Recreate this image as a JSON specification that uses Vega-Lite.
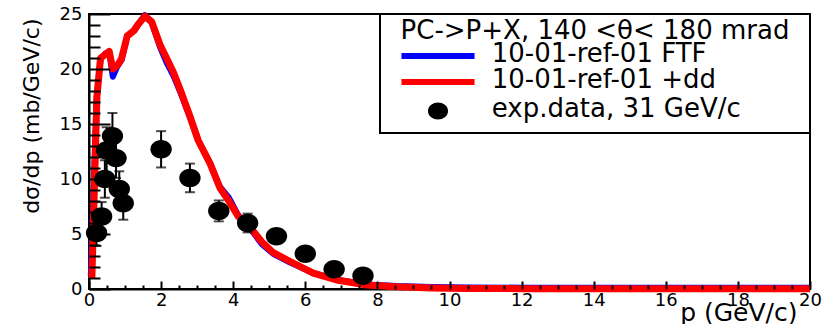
{
  "$schema": "https://vega.github.io/schema/vega-lite/v6.json",
  "width": 721,
  "height": 275,
  "autosize": {"type": "none"},
  "padding": {"left": 89, "top": 14, "right": 15, "bottom": 35},
  "background": "white",
  "config": {
    "view": {"stroke": "black", "strokeWidth": 2},
    "font": "DejaVu Sans",
    "axis": {
      "grid": false,
      "domainColor": "black",
      "domainWidth": 2,
      "tickColor": "#000000",
      "tickOpacity": 1,
      "tickWidth": 2,
      "labelColor": "black",
      "labelFont": "DejaVu Sans",
      "labelFontSize": 18,
      "labelFlush": false,
      "labelOverlap": false,
      "titleColor": "black",
      "titleFont": "DejaVu Sans",
      "titleFontWeight": "normal",
      "format": "d"
    },
    "legend": {
      "padding": 4,
      "strokeColor": "black",
      "strokeWidth": 2,
      "fillColor": "white",
      "titleFont": "DejaVu Sans",
      "titleFontSize": 26,
      "titleFontWeight": "normal",
      "titleColor": "black",
      "titleAnchor": "middle",
      "titleLimit": 2000,
      "titlePadding": -1,
      "labelFont": "DejaVu Sans",
      "labelFontSize": 26,
      "labelColor": "black",
      "labelLimit": 2000,
      "labelOffset": 40.7,
      "symbolOffset": 41,
      "symbolSize": 324,
      "symbolStrokeWidth": 6,
      "rowPadding": -1,
      "direction": "vertical"
    }
  },
  "datasets": {
    "ftf": [
      {"p": 0.05, "v": 1.2, "series": "10-01-ref-01 FTF"},
      {"p": 0.21, "v": 17.2, "series": "10-01-ref-01 FTF"},
      {"p": 0.32, "v": 20.9, "series": "10-01-ref-01 FTF"},
      {"p": 0.45, "v": 21.4, "series": "10-01-ref-01 FTF"},
      {"p": 0.56, "v": 21.6, "series": "10-01-ref-01 FTF"},
      {"p": 0.66, "v": 19.3, "series": "10-01-ref-01 FTF"},
      {"p": 0.78, "v": 20.2, "series": "10-01-ref-01 FTF"},
      {"p": 0.9, "v": 20.8, "series": "10-01-ref-01 FTF"},
      {"p": 1.06, "v": 23.0, "series": "10-01-ref-01 FTF"},
      {"p": 1.25, "v": 23.5, "series": "10-01-ref-01 FTF"},
      {"p": 1.35, "v": 24.0, "series": "10-01-ref-01 FTF"},
      {"p": 1.55, "v": 24.9, "series": "10-01-ref-01 FTF"},
      {"p": 1.74, "v": 24.2, "series": "10-01-ref-01 FTF"},
      {"p": 1.97, "v": 22.0, "series": "10-01-ref-01 FTF"},
      {"p": 2.15, "v": 20.6, "series": "10-01-ref-01 FTF"},
      {"p": 2.34, "v": 19.4, "series": "10-01-ref-01 FTF"},
      {"p": 2.52, "v": 18.0, "series": "10-01-ref-01 FTF"},
      {"p": 2.8, "v": 15.6, "series": "10-01-ref-01 FTF"},
      {"p": 3.03, "v": 13.5, "series": "10-01-ref-01 FTF"},
      {"p": 3.36, "v": 11.4, "series": "10-01-ref-01 FTF"},
      {"p": 3.63, "v": 9.3, "series": "10-01-ref-01 FTF"},
      {"p": 3.88, "v": 8.3, "series": "10-01-ref-01 FTF"},
      {"p": 4.14, "v": 6.7, "series": "10-01-ref-01 FTF"},
      {"p": 4.47, "v": 5.5, "series": "10-01-ref-01 FTF"},
      {"p": 4.79, "v": 4.1, "series": "10-01-ref-01 FTF"},
      {"p": 5.11, "v": 3.2, "series": "10-01-ref-01 FTF"},
      {"p": 5.58, "v": 2.4, "series": "10-01-ref-01 FTF"},
      {"p": 6.22, "v": 1.45, "series": "10-01-ref-01 FTF"},
      {"p": 6.87, "v": 0.85, "series": "10-01-ref-01 FTF"},
      {"p": 7.7, "v": 0.42, "series": "10-01-ref-01 FTF"},
      {"p": 8.54, "v": 0.27, "series": "10-01-ref-01 FTF"},
      {"p": 9.5, "v": 0.18, "series": "10-01-ref-01 FTF"},
      {"p": 10.5, "v": 0.14, "series": "10-01-ref-01 FTF"},
      {"p": 12, "v": 0.12, "series": "10-01-ref-01 FTF"},
      {"p": 14, "v": 0.11, "series": "10-01-ref-01 FTF"},
      {"p": 16, "v": 0.11, "series": "10-01-ref-01 FTF"},
      {"p": 18, "v": 0.11, "series": "10-01-ref-01 FTF"},
      {"p": 20, "v": 0.11, "series": "10-01-ref-01 FTF"}
    ],
    "dd": [
      {"p": 0.08, "v": 1.0, "series": "10-01-ref-01 +dd"},
      {"p": 0.22, "v": 17.5, "series": "10-01-ref-01 +dd"},
      {"p": 0.32, "v": 21.0, "series": "10-01-ref-01 +dd"},
      {"p": 0.45, "v": 21.3, "series": "10-01-ref-01 +dd"},
      {"p": 0.56, "v": 21.6, "series": "10-01-ref-01 +dd"},
      {"p": 0.66, "v": 20.0, "series": "10-01-ref-01 +dd"},
      {"p": 0.78, "v": 20.3, "series": "10-01-ref-01 +dd"},
      {"p": 0.9, "v": 20.9, "series": "10-01-ref-01 +dd"},
      {"p": 1.06, "v": 23.0, "series": "10-01-ref-01 +dd"},
      {"p": 1.25, "v": 23.5, "series": "10-01-ref-01 +dd"},
      {"p": 1.35, "v": 24.0, "series": "10-01-ref-01 +dd"},
      {"p": 1.55, "v": 24.8, "series": "10-01-ref-01 +dd"},
      {"p": 1.74, "v": 24.3, "series": "10-01-ref-01 +dd"},
      {"p": 1.97, "v": 22.2, "series": "10-01-ref-01 +dd"},
      {"p": 2.15, "v": 21.0, "series": "10-01-ref-01 +dd"},
      {"p": 2.34, "v": 19.7, "series": "10-01-ref-01 +dd"},
      {"p": 2.52, "v": 18.2, "series": "10-01-ref-01 +dd"},
      {"p": 2.8, "v": 15.7, "series": "10-01-ref-01 +dd"},
      {"p": 3.03, "v": 13.5, "series": "10-01-ref-01 +dd"},
      {"p": 3.36, "v": 11.4, "series": "10-01-ref-01 +dd"},
      {"p": 3.63, "v": 9.2, "series": "10-01-ref-01 +dd"},
      {"p": 3.86, "v": 8.1, "series": "10-01-ref-01 +dd"},
      {"p": 4.14, "v": 6.6, "series": "10-01-ref-01 +dd"},
      {"p": 4.47, "v": 5.6, "series": "10-01-ref-01 +dd"},
      {"p": 4.79, "v": 4.3, "series": "10-01-ref-01 +dd"},
      {"p": 5.11, "v": 3.3, "series": "10-01-ref-01 +dd"},
      {"p": 5.58, "v": 2.5, "series": "10-01-ref-01 +dd"},
      {"p": 6.22, "v": 1.45, "series": "10-01-ref-01 +dd"},
      {"p": 6.87, "v": 0.82, "series": "10-01-ref-01 +dd"},
      {"p": 7.7, "v": 0.36, "series": "10-01-ref-01 +dd"},
      {"p": 8.54, "v": 0.2, "series": "10-01-ref-01 +dd"},
      {"p": 9.5, "v": 0.1, "series": "10-01-ref-01 +dd"},
      {"p": 10.5, "v": 0.05, "series": "10-01-ref-01 +dd"},
      {"p": 12, "v": 0.03, "series": "10-01-ref-01 +dd"},
      {"p": 14, "v": 0.02, "series": "10-01-ref-01 +dd"},
      {"p": 16, "v": 0.02, "series": "10-01-ref-01 +dd"},
      {"p": 18, "v": 0.02, "series": "10-01-ref-01 +dd"},
      {"p": 20, "v": 0.02, "series": "10-01-ref-01 +dd"}
    ],
    "exp": [
      {"p": 0.21, "v": 5.1, "e": 1.2, "series": "exp.data, 31 GeV/c"},
      {"p": 0.35, "v": 6.6, "e": 1.3, "series": "exp.data, 31 GeV/c"},
      {"p": 0.44, "v": 10.0, "e": 1.7, "series": "exp.data, 31 GeV/c"},
      {"p": 0.49, "v": 12.6, "e": 2.1, "series": "exp.data, 31 GeV/c"},
      {"p": 0.65, "v": 13.9, "e": 2.1, "series": "exp.data, 31 GeV/c"},
      {"p": 0.75, "v": 11.9, "e": 1.8, "series": "exp.data, 31 GeV/c"},
      {"p": 0.84, "v": 9.1, "e": 1.6, "series": "exp.data, 31 GeV/c"},
      {"p": 0.95, "v": 7.8, "e": 1.5, "series": "exp.data, 31 GeV/c"},
      {"p": 2.0, "v": 12.7, "e": 1.65, "series": "exp.data, 31 GeV/c"},
      {"p": 2.8, "v": 10.1, "e": 1.3, "series": "exp.data, 31 GeV/c"},
      {"p": 3.6, "v": 7.1, "e": 0.95, "series": "exp.data, 31 GeV/c"},
      {"p": 4.4, "v": 6.0, "e": 0.85, "series": "exp.data, 31 GeV/c"},
      {"p": 5.2, "v": 4.8, "e": 0.6, "series": "exp.data, 31 GeV/c"},
      {"p": 6.0, "v": 3.2, "e": 0.4, "series": "exp.data, 31 GeV/c"},
      {"p": 6.8, "v": 1.8, "e": 0.3, "series": "exp.data, 31 GeV/c"},
      {"p": 7.6, "v": 1.2, "e": 0.2, "series": "exp.data, 31 GeV/c"}
    ]
  },
  "encoding": {
    "x": {"field": "p", "type": "quantitative", "scale": {"domain": [0, 20], "nice": false, "zero": false}, "axis": null},
    "y": {"field": "v", "type": "quantitative", "scale": {"domain": [0, 25], "nice": false}, "axis": null}
  },
  "layer": [
    {
      "data": {"name": "ftf"},
      "mark": {"type": "line", "strokeWidth": 6, "strokeJoin": "round"},
      "encoding": {
        "x": {
          "field": "p",
          "type": "quantitative",
          "scale": {"domain": [0, 20], "nice": false, "zero": false},
          "axis": {
            "orient": "bottom",
            "title": "p (GeV/c)",
            "titleFontSize": 25,
            "titleX": 708,
            "titleY": 31,
            "titleAlign": "right",
            "titleBaseline": "alphabetic",
            "values": [0, 2, 4, 6, 8, 10, 12, 14, 16, 18, 20],
            "ticks": false,
            "labelPadding": 2
          }
        },
        "y": {
          "field": "v",
          "type": "quantitative",
          "scale": {"domain": [0, 25], "nice": false},
          "axis": {
            "orient": "left",
            "title": "dσ/dp (mb/GeV/c)",
            "titleFontSize": 22,
            "titleX": -46,
            "titleY": 4,
            "titleAngle": -90,
            "titleAlign": "right",
            "titleBaseline": "bottom",
            "values": [0, 5, 10, 15, 20, 25],
            "ticks": false,
            "labelPadding": 7
          }
        },
        "color": {
          "field": "series",
          "type": "nominal",
          "scale": {
            "domain": ["10-01-ref-01 FTF", "10-01-ref-01 +dd", "exp.data, 31 GeV/c"],
            "range": ["#0000ff", "#ff0000", "#000000"]
          },
          "legend": {
            "title": "PC->P+X, 140 <θ< 180 mrad",
            "orient": "none",
            "legendX": 291,
            "legendY": 0,
            "encode": {
              "labels": {
                "update": {"dy": {"value": -2}}
              },
              "symbols": {
                "update": {
                  "shape": [
                    {"test": "datum.value === 'exp.data, 31 GeV/c'", "value": "M-0.78,0A0.78,0.61 0 1,0 0.78,0A0.78,0.61 0 1,0 -0.78,0ZM39.5,0"},
                    {"value": "M-4.06,0H4.06M39.5,0"}
                  ],
                  "fill": {"scale": "color", "field": "value"},
                  "stroke": {"scale": "color", "field": "value"},
                  "strokeWidth": {"value": 6},
                  "opacity": {"value": 1}
                }
              }
            }
          }
        }
      }
    },
    {
      "data": {"name": "dd"},
      "mark": {"type": "line", "strokeWidth": 7, "strokeJoin": "round"},
      "encoding": {
        "color": {"field": "series", "type": "nominal"}
      }
    },
    {
      "data": {"name": "exp"},
      "mark": {
        "type": "errorbar",
        "color": "black",
        "rule": {"strokeWidth": 2},
        "ticks": {"size": 10, "thickness": 2, "color": "black"}
      },
      "encoding": {
        "y": {"field": "v", "type": "quantitative", "scale": {"domain": [0, 25], "nice": false}, "axis": null},
        "yError": {"field": "e"}
      }
    },
    {
      "data": {"name": "exp"},
      "mark": {
        "type": "point",
        "filled": true,
        "opacity": 1,
        "shape": "M-1,0A1,0.86 0 1,0 1,0A1,0.86 0 1,0 -1,0Z",
        "size": 458
      },
      "encoding": {
        "color": {"field": "series", "type": "nominal"}
      }
    },
    {
      "data": {"name": "exp"},
      "mark": {"type": "point", "opacity": 0},
      "encoding": {
        "x": {
          "field": "p",
          "type": "quantitative",
          "scale": {"domain": [0, 20], "nice": false, "zero": false},
          "axis": {
            "orient": "top",
            "offset": -275,
            "zindex": 2,
            "title": null,
            "labels": false,
            "domain": false,
            "ticks": true,
            "tickColor": "#000000",
            "values": [0, 2, 4, 6, 8, 10, 12, 14, 16, 18, 20],
            "tickSize": 8
          }
        },
        "y": {
          "field": "v",
          "type": "quantitative",
          "scale": {"domain": [0, 25], "nice": false},
          "axis": {
            "orient": "right",
            "offset": -721,
            "zindex": 2,
            "title": null,
            "labels": false,
            "domain": false,
            "ticks": true,
            "tickColor": "#000000",
            "values": [0, 5, 10, 15, 20, 25],
            "tickSize": 21
          }
        }
      }
    },
    {
      "data": {"name": "exp"},
      "mark": {"type": "point", "opacity": 0},
      "encoding": {
        "x": {
          "field": "p",
          "type": "quantitative",
          "scale": {"domain": [0, 20], "nice": false, "zero": false},
          "axis": {
            "orient": "top",
            "offset": -275,
            "zindex": 2,
            "title": null,
            "labels": false,
            "domain": false,
            "ticks": true,
            "tickColor": "#000000",
            "values": [0.5, 1, 1.5, 2.5, 3, 3.5, 4.5, 5, 5.5, 6.5, 7, 7.5, 8.5, 9, 9.5, 10.5, 11, 11.5, 12.5, 13, 13.5, 14.5, 15, 15.5, 16.5, 17, 17.5, 18.5, 19, 19.5],
            "tickSize": 4
          }
        },
        "y": {
          "field": "v",
          "type": "quantitative",
          "scale": {"domain": [0, 25], "nice": false},
          "axis": {
            "orient": "right",
            "offset": -721,
            "zindex": 2,
            "title": null,
            "labels": false,
            "domain": false,
            "ticks": true,
            "tickColor": "#000000",
            "values": [1, 2, 3, 4, 6, 7, 8, 9, 11, 12, 13, 14, 16, 17, 18, 19, 21, 22, 23, 24],
            "tickSize": 11
          }
        }
      }
    }
  ],
  "resolve": {"axis": {"x": "independent", "y": "independent"}}
}
